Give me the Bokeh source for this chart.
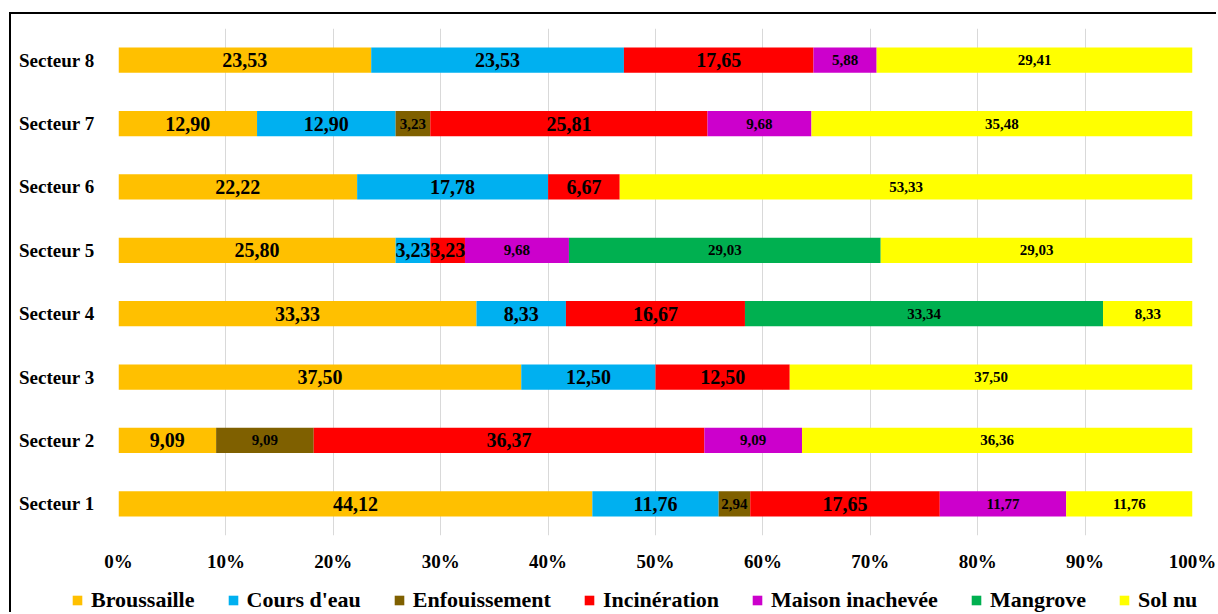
from bokeh.plotting import figure
from bokeh.layouts import column
from bokeh.models import (ColumnDataSource, FactorRange, Range1d, FixedTicker,
                          Legend, LegendItem)
from bokeh.core.properties import value
from bokeh.embed import file_html
from bokeh.resources import INLINE

sectors = ["Secteur 1", "Secteur 2", "Secteur 3", "Secteur 4",
           "Secteur 5", "Secteur 6", "Secteur 7", "Secteur 8"]
series = ["Broussaille", "Cours d'eau", "Enfouissement", "Incinération",
          "Maison inachevée", "Mangrove", "Sol nu"]
colors = ["#FFC000", "#00B0F0", "#7F6000", "#FF0000", "#CC00CC", "#00B050", "#FFFF00"]

broussaille = [44.12, 9.09, 37.50, 33.33, 25.80, 22.22, 12.90, 23.53]
cours_eau = [11.76, 0, 12.50, 8.33, 3.23, 17.78, 12.90, 23.53]
enfouissement = [2.94, 9.09, 0, 0, 0, 0, 3.23, 0]
incineration = [17.65, 36.37, 12.50, 16.67, 3.23, 6.67, 25.81, 17.65]
maison_inachevee = [11.77, 9.09, 0, 0, 9.68, 0, 9.68, 5.88]
mangrove = [0, 0, 0, 33.34, 29.03, 0, 0, 0]
sol_nu = [11.76, 36.36, 37.50, 8.33, 29.03, 53.33, 35.48, 29.41]

tick_values = [0, 10, 20, 30, 40, 50, 60, 70, 80, 90, 100]
tick_labels = ["0%", "10%", "20%", "30%", "40%", "50%", "60%", "70%", "80%", "90%", "100%"]

values = [broussaille, cours_eau, enfouissement, incineration,
          maison_inachevee, mangrove, sol_nu]
big_label_series = {"Broussaille", "Cours d'eau", "Incinération"}

FONT = "Liberation Serif"
NAN = float("nan")

data = {"sector": sectors}
for name, vals in zip(series, values):
    data[name] = vals
source = ColumnDataSource(data)

# ---------------- main chart ----------------
p = figure(y_range=FactorRange(factors=sectors, range_padding=0),
           x_range=Range1d(0, 100),
           width=1207, height=560,
           output_backend="svg", toolbar_location=None,
           min_border_left=107, min_border_right=26,
           min_border_top=14, min_border_bottom=39,
           background_fill_color="white", border_fill_color="white")
p.outline_line_color = None
p.frame_align = False

p.hbar_stack(series, y="sector", height=0.4, color=colors,
             line_color=None, source=source)

# value labels
big = {"x": [], "y": [], "t": []}
small = {"x": [], "y": [], "t": []}
for j, sec in enumerate(sectors):
    left = 0.0
    for name, vals in zip(series, values):
        v = vals[j]
        if v > 0:
            target = big if name in big_label_series else small
            target["x"].append(left + v / 2.0)
            target["y"].append(sec)
            target["t"].append(f"{v:.2f}".replace(".", ","))
        left += v

p.text(x="x", y="y", text="t", source=ColumnDataSource(big),
       text_font=value(FONT), text_font_style="bold", text_font_size="20px",
       text_align="center", text_baseline="middle", text_color="black")
p.text(x="x", y="y", text="t", source=ColumnDataSource(small),
       text_font=value(FONT), text_font_style="bold", text_font_size="15px",
       text_align="center", text_baseline="middle", text_color="black")

# axes
p.xaxis.ticker = FixedTicker(ticks=tick_values)
p.xaxis.major_label_overrides = {v: l for v, l in zip(tick_values, tick_labels)}
for ax in (p.xaxis[0], p.yaxis[0]):
    ax.axis_line_color = None
    ax.major_tick_line_color = None
    ax.minor_tick_line_color = None
    ax.major_label_text_font = FONT
    ax.major_label_text_font_style = "bold"
    ax.major_label_text_font_size = "19px"
    ax.major_label_text_color = "black"
p.xaxis.major_label_standoff = 9
p.yaxis.major_label_standoff = 18

p.xgrid.grid_line_color = "#D9D9D9"
p.xgrid.grid_line_width = 1
p.ygrid.grid_line_color = None

# ---------------- legend strip ----------------
lg = figure(width=1207, height=40, output_backend="svg", toolbar_location=None,
            x_range=Range1d(0, 1), y_range=Range1d(0, 1),
            min_border=0, min_border_left=0, min_border_right=0,
            min_border_top=0, min_border_bottom=0,
            background_fill_color="white", border_fill_color="white")
lg.outline_line_color = None
lg.frame_align = False
lg.axis.visible = False
lg.grid.visible = False

items = []
for name, col in zip(series, colors):
    # legend-key renderer only: a single undefined (NaN) box that draws nothing in the strip
    r = lg.quad(left=[NAN], right=[NAN], top=[NAN], bottom=[NAN],
                fill_color=col, line_color=None)
    items.append(LegendItem(label=name, renderers=[r]))

legend = Legend(items=items, orientation="horizontal", location=(60, 1),
                label_text_font=FONT, label_text_font_style="bold",
                label_text_font_size="22px", label_text_color="black",
                glyph_width=12, glyph_height=12, label_standoff=8, spacing=32,
                padding=0, margin=0, border_line_color=None,
                background_fill_alpha=0)
lg.add_layout(legend, "center")

layout = column(p, lg, spacing=0,
                styles={"margin-left": "11px", "margin-top": "14px",
                        "box-shadow": "-2px -2px 0px 0px black"})

open("out.html", "w").write(file_html(layout, INLINE))
